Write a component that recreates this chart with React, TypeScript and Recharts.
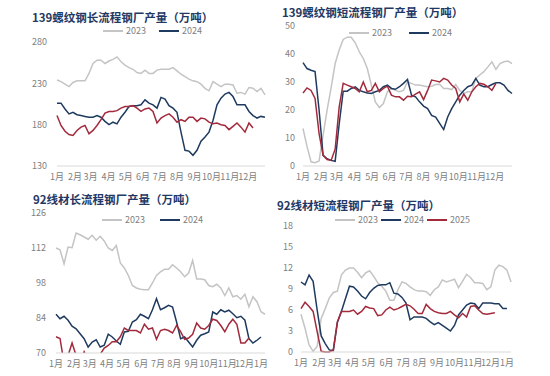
import React from "react";
import { LineChart, Line, XAxis, YAxis } from "recharts";

// month labels under the x axis (weekly data, tick at first week of month)
const MONTHS_12 = ["1月", "2月", "3月", "4月", "5月", "6月", "7月", "8月", "9月", "10月", "11月", "12月"];
const MONTH_WEEKS_12 = [0, 4.5, 8.4, 12.9, 17.2, 21.5, 25.7, 30, 34.4, 38.6, 43.2, 47.7];
const MONTHS_13 = [...MONTHS_12, "1月"];
const MONTH_WEEKS_13 = [0, 4.5, 8.4, 12.7, 16.8, 21.2, 25.4, 29.4, 33.7, 38, 42.6, 46.9, 51];

// 139螺纹钢长流程钢厂产量
const REBAR_LONG_2023 = [234, 232, 229, 226, 231, 233, 233, 233, 242, 254, 258, 258, 254, 257, 259, 262, 256, 252, 249, 247, 243, 242, 246, 242, 242, 246, 247, 247, 247, 249, 245, 241, 238, 235, 233, 232, 229, 224, 221, 232, 229, 226, 229, 229, 228, 218, 219, 217, 225, 224, 220, 224, 216];
const REBAR_LONG_2024 = [206, 206, 199, 193, 195, 192, 191, 190, 189, 189, 191, 189, 184, 180, 183, 181, 189, 195, 202, 203, 203, 204, 210, 206, 204, 200, 213, 211, 203, 200, 195, 171, 149, 148, 143, 149, 160, 165, 171, 185, 204, 212, 217, 219, 214, 204, 204, 204, 196, 191, 188, 190, 189];
const REBAR_LONG_2025 = [191, 179, 172, 168, 167, 173, 177, 179, 169, 173, 179, 186, 194, 196, 196, 197, 200, 202, 202, 203, 200, 196, 199, 200, 196, 182, 188, 191, 193, 189, 183, 186, 184, 189, 189, 184, 188, 187, 183, 181, 182, 180, 179, 174, 178, 182, 177, 171, 182, 176];

// 139螺纹钢短流程钢厂产量
const REBAR_SHORT_2023 = [13.4, 7, 1.5, 1.2, 1.8, 11, 20, 28, 36.6, 41.4, 45.2, 46, 46, 44, 40.8, 38.4, 34.8, 28.9, 22.9, 20.9, 22.3, 26.5, 27.7, 27, 26.5, 27, 30, 29.5, 28.9, 28.9, 28.6, 28.3, 28.5, 29.1, 29.2, 27.7, 27.7, 27.3, 29.1, 27, 25.9, 26.5, 26.5, 31.3, 32.5, 33.7, 35.4, 37.2, 34.5, 36.6, 37.2, 37.5, 36.6];
const REBAR_SHORT_2024 = [36.9, 34.8, 34.2, 33.7, 20, 3.8, 2.6, 2, 1.7, 15, 26.7, 26.7, 27.7, 28.3, 27, 26.5, 26.1, 25.9, 26.5, 27, 28.3, 28.9, 27.7, 27.4, 28.3, 29.5, 30.9, 25.3, 24.7, 22.9, 21.4, 20.5, 18.1, 17.5, 15.2, 13, 17.5, 20.5, 22.9, 25.3, 27, 28.3, 28.9, 31.3, 28.9, 28.3, 28.3, 29.1, 29.7, 29.7, 28.9, 27, 25.9];
const REBAR_SHORT_2025 = [26.1, 27.9, 27, 24.1, 11.6, 3.8, 2.3, 2, 6, 21, 29.5, 28.9, 28.3, 27.7, 26.5, 30, 26.5, 27, 29.5, 26.5, 27.7, 28.5, 25.3, 24.7, 24.7, 23.5, 24.9, 24.7, 25.7, 26.5, 23.7, 27, 30.7, 30.4, 30, 31.3, 30.7, 28.9, 27.7, 22.9, 25.7, 23.5, 26.5, 28.3, 29.5, 29.2, 28.3, 27, 29.5];

// 92线材长流程钢厂产量
const WIRE_LONG_2023 = [112, 111.3, 105.7, 112.4, 112.1, 118, 117.3, 116.4, 115.5, 117.1, 115.1, 116.7, 114.8, 112, 111, 113, 106, 104, 101, 97, 96, 95.5, 95.3, 95.3, 98, 101, 102.5, 103.5, 103.5, 105.3, 104, 102.5, 100.5, 102, 107, 99.6, 99.6, 99.3, 97, 96.5, 97.5, 96, 93, 96, 92.5, 93, 91.5, 93.5, 88.5, 92.5, 90.5, 86.5, 85.5];
const WIRE_LONG_2024 = [85.5, 83.7, 84.7, 83.1, 80.7, 79.7, 77.7, 75.7, 72.4, 74.4, 75.3, 72.4, 73.1, 77.5, 76.4, 74.8, 73.5, 78.4, 78.7, 82.4, 83.3, 85.5, 84.7, 83.7, 87.3, 91.7, 87.3, 88.1, 89.1, 88.4, 82.4, 75.7, 76.4, 74.4, 72.4, 75.1, 77.1, 77.7, 78.4, 86.4, 85.5, 87.3, 86.4, 87.1, 85.7, 84.1, 84.7, 83.1, 75.7, 74, 75.1, 76.4];
const WIRE_LONG_2025 = [76.5, 75.8, 66, 69, 74, 69, 66, 70.5, 67, 65, 66, 69.5, 72, 73, 74.5, 74.5, 76.5, 80, 79, 79, 79, 78, 81.5, 79.5, 80, 75.5, 79, 79.5, 79, 78, 81, 78.5, 75.5, 76, 77.5, 82, 80, 79.5, 81, 83.5, 83, 81, 78.5, 81.5, 83.5, 81.5, 74, 74, 76];

// 92线材短流程钢厂产量
const WIRE_SHORT_2023 = [5.4, 3.4, 1, 0.1, 0.8, 4.8, 6.2, 7.7, 8.5, 8.7, 11, 11.7, 12, 12, 11.4, 10.6, 11.3, 11.6, 10.8, 9.9, 9.4, 8.7, 7.4, 7.4, 8.9, 10, 9.8, 9.3, 8.9, 8.7, 8.7, 8.6, 8.1, 8.9, 9.3, 10.3, 10, 10.2, 10.4, 9.2, 10.1, 11.1, 10.6, 9.9, 9.9, 9.8, 8.9, 9.3, 11.7, 12.4, 12.2, 11.7, 10];
const WIRE_SHORT_2024 = [10, 9.6, 11, 10.1, 6, 2.3, 1.2, 0.3, 0.2, 4.2, 5.8, 7.6, 9.4, 9.3, 8.7, 8, 7.6, 8.5, 9.1, 9.5, 9.6, 9.6, 9.9, 8.4, 8.3, 7.8, 7, 4.6, 5, 5, 5, 4.8, 4.3, 3.9, 4.2, 3.8, 3.4, 3, 3.8, 5.3, 6, 6.7, 7, 6.9, 6.2, 7, 7, 7, 6.9, 6.9, 6.2, 6.2];
const WIRE_SHORT_2025 = [6.2, 7.1, 6.5, 5.8, 2.9, 0.1, 0, 0, 0.3, 4.3, 5.8, 5.8, 5.8, 6, 5.4, 5.8, 6.5, 6.3, 6.2, 5.2, 5.3, 6, 6.4, 6, 6.2, 6.5, 6.8, 6.6, 6.1, 5.5, 5.5, 6.8, 6.2, 5.8, 5.6, 5.5, 5.5, 5.8, 5.3, 4.9, 5.5, 5, 6.5, 6.6, 6, 5.5, 5.4, 5.5, 5.6];

const GRAY = "#c4c4c4";
const NAVY = "#1f3a5f";
const RED = "#a32a3c";
const FONT = "'Noto Sans CJK SC', 'Noto Sans', sans-serif";

type PanelProps = {
  left: number;
  top: number;
  title: string;
  titleX: number;
  titleY: number;
  legendX: number;
  legendY: number;
  legendGap: number;
  legendNames: string[];
  s23: number[];
  s24: number[];
  s25: number[];
  domain: [number, number];
  yTicks: number[];
  months: string[];
  monthWeeks: number[];
  margin: { top: number; right: number; bottom: number; left: number };
  yWidth: number;
  yTickMargin: number;
  clip?: boolean;
};

function Panel(p: PanelProps) {
  const rows = [];
  for (let i = 0; i < 53; i++) {
    rows.push({ w: i, y23: p.s23[i], y24: p.s24[i], y25: p.s25[i] });
  }
  const colors: Record<string, string> = { "2023": GRAY, "2024": NAVY, "2025": RED };
  const tick = { fontSize: 9, fill: "#808080", fontFamily: FONT };
  return (
    <div style={{ position: "absolute", left: p.left, top: p.top, width: 275, height: 188 }}>
      <LineChart width={275} height={188} data={rows} margin={p.margin}>
        <XAxis
          dataKey="w"
          type="number"
          domain={[0, 52]}
          ticks={p.monthWeeks}
          interval={0}
          tickFormatter={(v) => p.months[p.monthWeeks.indexOf(v)]}
          tickLine={false}
          axisLine={{ stroke: "#d9d9d9" }}
          tick={tick}
          height={16}
        />
        <YAxis
          type="number"
          domain={p.domain}
          ticks={p.yTicks}
          interval={0}
          allowDataOverflow={!!p.clip}
          tickLine={false}
          axisLine={false}
          tick={tick}
          tickMargin={p.yTickMargin}
          width={p.yWidth}
        />
        <Line dataKey="y23" type="linear" stroke={GRAY} strokeWidth={1.5} dot={false} isAnimationActive={false} />
        <Line dataKey="y24" type="linear" stroke={NAVY} strokeWidth={1.5} dot={false} isAnimationActive={false} />
        <Line dataKey="y25" type="linear" stroke={RED} strokeWidth={1.5} dot={false} isAnimationActive={false} />
      </LineChart>
      <div
        style={{
          position: "absolute",
          left: p.titleX,
          top: p.titleY - 5.5,
          height: 11,
          lineHeight: "11px",
          fontFamily: FONT,
          fontWeight: 700,
          fontSize: 11.5,
          color: "#1f3864",
          whiteSpace: "nowrap",
        }}
      >
        {p.title}
      </div>
      <div
        style={{
          position: "absolute",
          left: p.legendX,
          top: p.legendY - 6,
          height: 12,
          display: "flex",
          alignItems: "center",
          gap: p.legendGap,
          fontFamily: FONT,
          fontSize: 9,
          lineHeight: "12px",
          color: "#808080",
          whiteSpace: "nowrap",
        }}
      >
        {p.legendNames.map((n) => (
          <div key={n} style={{ display: "flex", alignItems: "center" }}>
            <span style={{ display: "inline-block", width: 20, height: 1.5, background: colors[n] }} />
            <span style={{ marginLeft: 3 }}>{n}</span>
          </div>
        ))}
      </div>
    </div>
  );
}

export default function App() {
  return (
    <div style={{ position: "absolute", left: 0, top: 0, width: 550, height: 376, background: "#fff", overflow: "hidden" }}>
      <Panel
        left={0}
        top={0}
        title="139螺纹钢长流程钢厂产量（万吨）"
        titleX={32}
        titleY={17}
        legendX={103}
        legendY={31}
        legendGap={13}
        legendNames={["2023", "2024"]}
        s23={REBAR_LONG_2023}
        s24={REBAR_LONG_2024}
        s25={REBAR_LONG_2025}
        domain={[130, 280]}
        yTicks={[130, 180, 230, 280]}
        months={MONTHS_12}
        monthWeeks={MONTH_WEEKS_12}
        margin={{ top: 42, right: 10, bottom: 6, left: 27 }}
        yWidth={30}
        yTickMargin={4}
      />
      <Panel
        left={275}
        top={0}
        title="139螺纹钢短流程钢厂产量（万吨）"
        titleX={7}
        titleY={12.5}
        legendX={74}
        legendY={33}
        legendGap={17}
        legendNames={["2023", "2024"]}
        s23={REBAR_SHORT_2023}
        s24={REBAR_SHORT_2024}
        s25={REBAR_SHORT_2025}
        domain={[0, 50]}
        yTicks={[0, 10, 20, 30, 40, 50]}
        months={MONTHS_12}
        monthWeeks={MONTH_WEEKS_12}
        margin={{ top: 26, right: 38, bottom: 6, left: 8 }}
        yWidth={20}
        yTickMargin={2}
      />
      <Panel
        left={0}
        top={188}
        title="92线材长流程钢厂产量（万吨）"
        titleX={33}
        titleY={11}
        legendX={102}
        legendY={32}
        legendGap={15}
        legendNames={["2023", "2024"]}
        s23={WIRE_LONG_2023}
        s24={WIRE_LONG_2024}
        s25={WIRE_LONG_2025}
        domain={[70, 126]}
        yTicks={[70, 84, 98, 112, 126]}
        months={MONTHS_13}
        monthWeeks={MONTH_WEEKS_13}
        margin={{ top: 25, right: 10, bottom: 7, left: 26 }}
        yWidth={30}
        yTickMargin={4}
        clip
      />
      <Panel
        left={275}
        top={188}
        title="92线材短流程钢厂产量（万吨）"
        titleX={2}
        titleY={17}
        legendX={60}
        legendY={32}
        legendGap={3}
        legendNames={["2023", "2024", "2025"]}
        s23={WIRE_SHORT_2023}
        s24={WIRE_SHORT_2024}
        s25={WIRE_SHORT_2025}
        domain={[0, 18]}
        yTicks={[0, 3, 6, 9, 12, 15, 18]}
        months={MONTHS_13}
        monthWeeks={MONTH_WEEKS_13}
        margin={{ top: 38, right: 39, bottom: 8, left: 6 }}
        yWidth={20}
        yTickMargin={2}
      />
    </div>
  );
}
